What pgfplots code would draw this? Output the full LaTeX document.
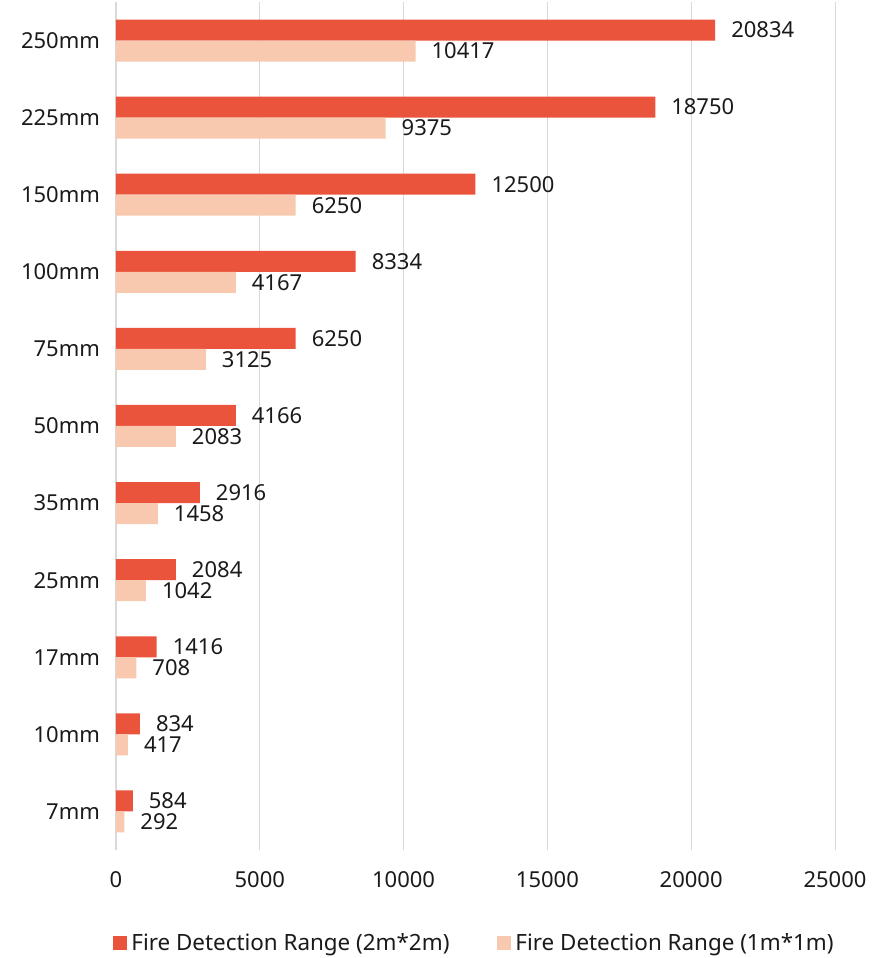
\documentclass[border=0pt]{standalone}
\usepackage{pgfplots}
\pgfplotsset{compat=1.18}
\usepackage{fontspec}
\setmainfont{Noto Sans}
\definecolor{cred}{HTML}{EA533C}
\definecolor{clight}{HTML}{F8C9AE}
\definecolor{cgrid}{HTML}{D9D9D9}
\definecolor{ctext}{HTML}{1A1A1A}
\begin{document}
\begin{tikzpicture}[font=\fontsize{11}{13}\selectfont, text=ctext]
\path[use as bounding box] (-58pt,-54pt) rectangle (383.5pt,425pt);
\begin{axis}[
  at={(0,0)}, anchor=south west,
  scale only axis, width=359.5pt, height=424pt,
  xbar, bar width=10.5pt,
  xmin=0, xmax=25000, ymin=-0.5, ymax=10.5,
  xtick={0,5000,10000,15000,20000,25000},
  ytick={0,1,2,3,4,5,6,7,8,9,10},
  yticklabels={7mm,10mm,17mm,25mm,35mm,50mm,75mm,100mm,150mm,225mm,250mm},
  /pgf/number format/assume math mode=true,
  /pgf/number format/1000 sep={},
  scaled x ticks=false,
  xmajorgrids, grid style={cgrid, line width=0.5pt},
  axis y line*=left, axis x line*=bottom,
  x axis line style={draw=none},
  y axis line style={draw=cgrid, line width=1pt},
  major tick length=0pt,
  xticklabel style={yshift=-7pt},
  yticklabel style={xshift=-4.5pt},
  point meta=x,
  nodes near coords,
  nodes near coords style={anchor=west, xshift=4.5pt, font=\fontsize{11}{13}\selectfont, text=ctext},
  legend style={at={(0.5,-0.1097)}, anchor=center, legend columns=2, draw=none,
    font=\fontsize{11.2}{13}\selectfont,
    /tikz/every even column/.append style={column sep=22pt}},
  legend image code/.code={\fill[#1] (0pt,-3.5pt) rectangle (7pt,3.5pt);},
]
\addplot[bar shift=5.25pt, fill=cred, draw=none] coordinates {
(584,0) (834,1) (1416,2) (2084,3) (2916,4) (4166,5) (6250,6) (8334,7) (12500,8) (18750,9) (20834,10)};
\addplot[bar shift=-5.25pt, fill=clight, draw=none] coordinates {
(292,0) (417,1) (708,2) (1042,3) (1458,4) (2083,5) (3125,6) (4167,7) (6250,8) (9375,9) (10417,10)};
\legend{Fire Detection Range (2m*2m), Fire Detection Range (1m*1m)}
\end{axis}
\end{tikzpicture}
\end{document}
